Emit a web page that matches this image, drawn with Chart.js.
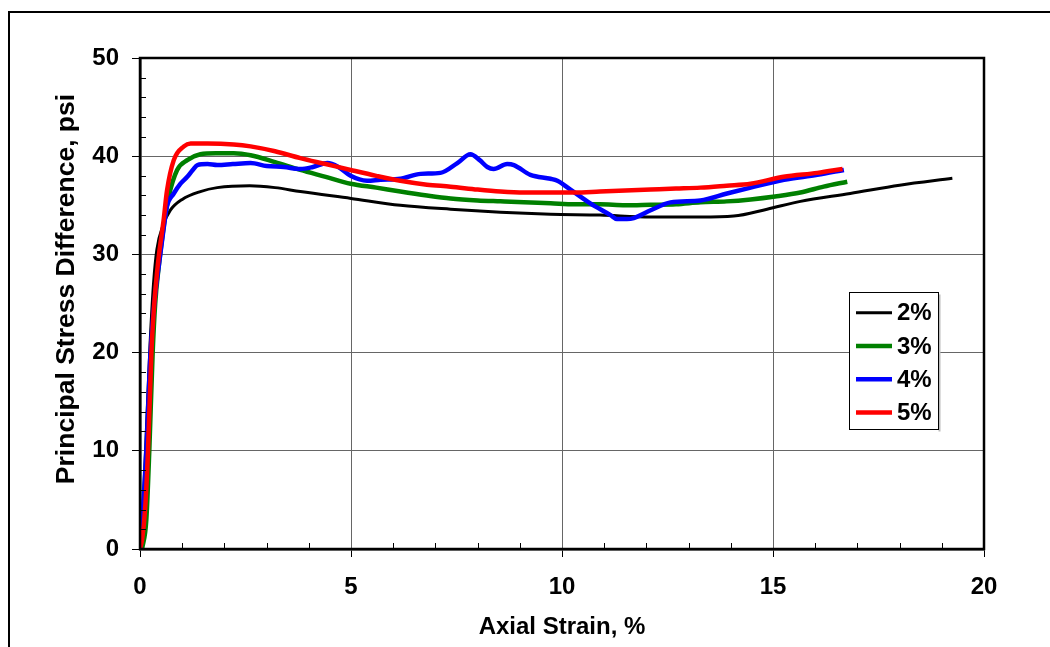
<!DOCTYPE html>
<html>
<head>
<meta charset="utf-8">
<script src="https://cdn.jsdelivr.net/npm/chart.js@4/dist/chart.umd.min.js"></script>
<style>
  body { margin: 0; background: #fff; }
  canvas { display: block; }
</style>
</head>
<body>
<canvas id="stress-strain" width="1050" height="647"></canvas>
<script>
const seriesLabels = ["2%", "3%", "4%", "5%"];
const seriesColors = ["#000000", "#008000", "#0000ff", "#ff0000"];

const strain2 = [0, 0.08, 0.16, 0.24, 0.32, 0.4, 0.55, 0.72, 1.0, 1.43, 1.83, 2.6, 3.2, 3.8, 5.0, 6.17, 7.36, 8.54, 9.73, 10.9, 12.1, 13.28, 14.07, 14.86, 15.65, 16.83, 18.0, 19.25];
const stress2 = [0, 5, 13, 21, 27, 30.5, 33, 34.5, 35.6, 36.4, 36.8, 37.0, 36.8, 36.4, 35.7, 35.0, 34.6, 34.3, 34.1, 34.0, 33.8, 33.8, 33.9, 34.6, 35.4, 36.2, 37.05, 37.75];

const strain3 = [0.05, 0.15, 0.22, 0.3, 0.36, 0.45, 0.52, 0.6, 0.68, 0.88, 1.12, 1.43, 1.8, 2.22, 2.62, 3.2, 3.8, 4.4, 4.99, 5.6, 6.17, 6.8, 7.36, 8.0, 8.54, 9.1, 9.73, 10.3, 10.9, 11.5, 12.1, 12.7, 13.28, 13.9, 14.47, 15.05, 15.65, 16.2, 16.76];
const stress3 = [0, 3, 10, 20, 25, 29, 31.5, 34, 35.9, 38.6, 39.6, 40.2, 40.3, 40.3, 40.1, 39.4, 38.6, 37.9, 37.2, 36.8, 36.4, 36.0, 35.7, 35.5, 35.4, 35.3, 35.2, 35.1, 35.1, 35.0, 35.05, 35.1, 35.3, 35.4, 35.6, 35.9, 36.3, 36.9, 37.4];

const strain4 = [0, 0.07, 0.15, 0.25, 0.35, 0.45, 0.55, 0.64, 0.8, 0.96, 1.12, 1.25, 1.36, 1.6, 1.83, 2.2, 2.62, 3.0, 3.41, 3.8, 4.1, 4.44, 4.7, 4.99, 5.38, 5.7, 6.17, 6.65, 7.12, 7.52, 7.83, 8.05, 8.23, 8.38, 8.7, 8.86, 9.25, 9.73, 9.89, 10.2, 10.67, 11.15, 11.3, 11.54, 11.7, 12.1, 12.57, 13.28, 13.91, 14.47, 15.26, 16.05, 16.68];
const stress4 = [0, 4, 10, 20, 25.5, 29, 32.3, 34.9, 36.2, 37.2, 37.9, 38.6, 39.1, 39.2, 39.1, 39.2, 39.3, 39.0, 38.9, 38.7, 38.9, 39.3, 38.9, 38.0, 37.5, 37.6, 37.7, 38.2, 38.3, 39.3, 40.2, 39.6, 38.9, 38.7, 39.2, 39.1, 38.1, 37.7, 37.5, 36.6, 35.2, 34.0, 33.6, 33.6, 33.7, 34.5, 35.3, 35.5, 36.2, 36.8, 37.6, 38.1, 38.6];

const strain5 = [0, 0.05, 0.12, 0.19, 0.27, 0.33, 0.4, 0.45, 0.56, 0.64, 0.8, 1.04, 1.2, 1.6, 2.22, 2.62, 3.2, 3.8, 4.4, 4.99, 5.6, 6.17, 6.8, 7.36, 8.0, 8.54, 9.1, 9.73, 10.3, 10.9, 11.5, 12.1, 12.7, 13.28, 13.9, 14.47, 15.25, 16.05, 16.65];
const stress5 = [0, 1, 4, 10, 20, 24.5, 28, 30, 33.5, 36.5, 39.6, 41.0, 41.3, 41.3, 41.2, 41.0, 40.5, 39.8, 39.2, 38.6, 38.0, 37.5, 37.1, 36.9, 36.6, 36.4, 36.3, 36.3, 36.3, 36.4, 36.5, 36.6, 36.7, 36.8, 37.0, 37.2, 37.9, 38.3, 38.7];

const xTicks = [0, 5, 10, 15, 20];
const yTicks = [0, 10, 20, 30, 40, 50];
const yTitle = "Principal Stress Difference, psi";

const FONT = "Arial, 'Liberation Sans', sans-serif";

function toPoints(xs, ys) {
  return xs.map((x, i) => ({ x: x, y: ys[i] }));
}

// outer frame, plot box, minor ticks, y title
const framePlugin = {
  id: "frame",
  beforeDraw(chart) {
    const ctx = chart.ctx;
    ctx.save();
    ctx.fillStyle = "#fff";
    ctx.fillRect(0, 0, chart.width, chart.height);
    ctx.strokeStyle = "#000";
    ctx.lineWidth = 2;
    ctx.strokeRect(9, 12, chart.width + 20, chart.height + 20);
    // y title sits a bit above the plot middle in the original
    ctx.translate(66.5, 289);
    ctx.rotate(-Math.PI / 2);
    ctx.font = "bold 26.5px " + FONT;
    ctx.fillStyle = "#000";
    ctx.textAlign = "center";
    ctx.textBaseline = "middle";
    ctx.fillText(yTitle, 0, 0);
    ctx.restore();
  },
  afterDatasetsDraw(chart) {
    const { ctx, chartArea } = chart;
    const xs = chart.scales.x;
    const ys = chart.scales.y;
    ctx.save();
    ctx.strokeStyle = "#000";
    ctx.lineWidth = 1;
    ctx.beginPath();
    for (let v = 1; v < 20; v++) {
      if (v % 5 === 0) continue;
      const px = Math.round(xs.getPixelForValue(v)) + 0.5;
      ctx.moveTo(px, chartArea.bottom);
      ctx.lineTo(px, chartArea.bottom - 6);
    }
    for (let v = 2; v < 50; v += 2) {
      if (v % 10 === 0) continue;
      const py = Math.round(ys.getPixelForValue(v)) + 0.5;
      ctx.moveTo(chartArea.left, py);
      ctx.lineTo(chartArea.left + 6, py);
    }
    ctx.stroke();
    ctx.lineWidth = 2.5;
    ctx.strokeRect(chartArea.left, chartArea.top, chartArea.right - chartArea.left, chartArea.bottom - chartArea.top);
    ctx.restore();
  },
};

// legend box inside the plot
const boxLegend = {
  id: "boxLegend",
  afterDatasetsDraw(chart) {
    const ctx = chart.ctx;
    const left = 849.5, top = 292.5, w = 89, h = 137;
    ctx.save();
    ctx.fillStyle = "#bbb";
    ctx.fillRect(left + w, top + 2, 2, h);
    ctx.fillStyle = "#fff";
    ctx.fillRect(left, top, w, h);
    ctx.strokeStyle = "#000";
    ctx.lineWidth = 1;
    ctx.strokeRect(left, top, w, h);
    ctx.font = "bold 24px " + FONT;
    ctx.textBaseline = "middle";
    ctx.textAlign = "left";
    chart.data.datasets.forEach((ds, i) => {
      const y = 312.7 + i * 33.3;
      ctx.strokeStyle = ds.borderColor;
      ctx.lineWidth = ds.borderWidth;
      ctx.beginPath();
      ctx.moveTo(856, y);
      ctx.lineTo(892, y);
      ctx.stroke();
      ctx.fillStyle = "#000";
      ctx.fillText(ds.label, 897, y + 1);
    });
    ctx.restore();
  },
};

const strainSeries = [strain2, strain3, strain4, strain5];
const stressSeries = [stress2, stress3, stress4, stress5];

const datasets = seriesLabels.map((label, i) => ({
  label: label,
  data: toPoints(strainSeries[i], stressSeries[i]),
  borderColor: seriesColors[i],
  backgroundColor: seriesColors[i],
  borderWidth: i === 0 ? 3 : 4.5,
  pointRadius: 0,
  cubicInterpolationMode: "monotone",
  order: 4 - i,
}));

const chart = new Chart(document.getElementById("stress-strain"), {
  type: "line",
  data: { datasets: datasets },
  options: {
    responsive: false,
    animation: false,
    devicePixelRatio: 1,
    layout: { padding: { top: 58, right: 66, left: 0, bottom: 0 } },
    plugins: { legend: { display: false }, tooltip: { enabled: false } },
    scales: {
      x: {
        type: "linear",
        min: 0,
        max: 20,
        afterBuildTicks: (scale) => {
          scale.ticks = xTicks.map((v) => ({ value: v }));
        },
        afterFit: (scale) => {
          scale.height = 98;
        },
        ticks: { color: "#000", font: { family: FONT, size: 24, weight: "bold" }, padding: 16, maxRotation: 0 },
        grid: { color: "#666", lineWidth: 1, tickLength: 8, tickColor: "#000", tickWidth: 1 },
        border: { display: true, color: "#000", width: 2.5 },
        title: {
          display: true,
          text: "Axial Strain, %",
          color: "#000",
          font: { family: FONT, size: 24, weight: "bold" },
          padding: { top: 0, bottom: 5 },
        },
      },
      y: {
        type: "linear",
        min: 0,
        max: 50,
        afterBuildTicks: (scale) => {
          scale.ticks = yTicks.map((v) => ({ value: v }));
        },
        afterFit: (scale) => {
          scale.width = 140;
        },
        ticks: { color: "#000", font: { family: FONT, size: 24, weight: "bold" }, padding: 13 },
        grid: { color: "#666", lineWidth: 1, tickLength: 8, tickColor: "#000", tickWidth: 1 },
        border: { display: true, color: "#000", width: 2.5 },
      },
    },
  },
  plugins: [framePlugin, boxLegend],
});
</script>
</body>
</html>
